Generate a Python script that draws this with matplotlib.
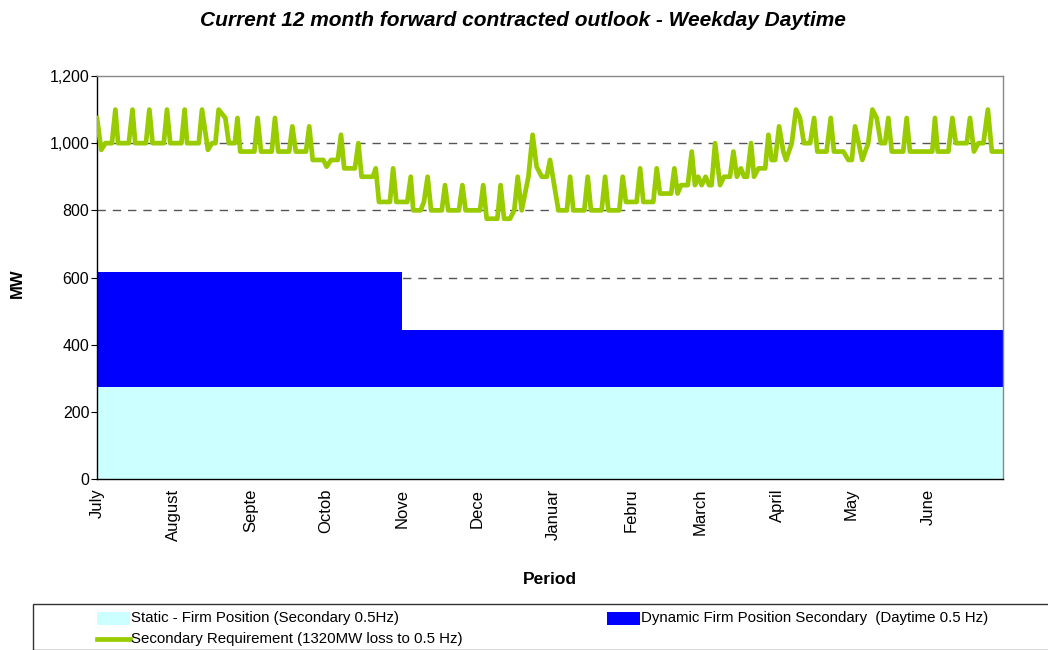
import matplotlib
matplotlib.use("Agg")
import matplotlib.pyplot as plt
from matplotlib.patches import Rectangle
from matplotlib.lines import Line2D
from matplotlib.ticker import FuncFormatter

plt.rcParams['font.family'] = ['Liberation Sans', 'DejaVu Sans']

# ---- data ----
month_labels = ['July', 'August', 'Septe', 'Octob', 'Nove', 'Dece',
                'Januar', 'Febru', 'March', 'April', 'May', 'June']
month_start_days = [0, 31, 62, 92, 123, 153, 184, 215, 243, 274, 304, 335]

static_days = [0, 365]
static_mw = [275, 275]

dynamic_days = [0, 123, 365]
dynamic_top_mw = [615, 443, 443]

req_days = [0, 1.7, 3.4, 6.0, 7.4, 8.5, 12.8, 14.3, 15.4, 19.7, 21.1, 22.4,
            26.9, 28.2, 29.5, 34.0, 35.3, 36.3, 41.0, 42.3, 44.7, 46.3, 47.7,
            49.0, 51.7, 53.1, 55.5, 56.6, 57.7, 63.4, 64.7, 66.1, 70.4, 71.7,
            73.0, 77.4, 78.7, 80.1, 84.2, 85.5, 86.9, 91.2, 92.5, 94.3, 97.0,
            98.3, 99.6, 103.9, 105.3, 106.6, 111.1, 112.3, 113.6, 118.0, 119.3,
            120.6, 125.0, 126.4, 127.4, 130.4, 131.7, 133.2, 134.6, 138.9,
            140.2, 141.5, 145.8, 147.2, 148.5, 154.3, 155.6, 157.0, 161.3,
            162.6, 164.0, 166.4, 168.1, 169.5, 171.1, 173.8, 175.5, 177.1,
            179.2, 181.2, 182.5, 185.9, 189.3, 190.6, 191.9, 196.3, 197.7,
            199.0, 203.3, 204.7, 206.0, 210.4, 211.8, 213.1, 217.4, 218.8,
            220.1, 224.1, 225.5, 226.8, 231.3, 232.6, 233.9, 235.3, 238.0,
            239.6, 240.9, 242.2, 243.6, 245.2, 246.6, 247.6, 249.0, 251.0,
            252.6, 255.0, 256.4, 257.8, 259.4, 260.7, 261.9, 263.5, 264.7,
            266.5, 269.2, 270.5, 271.8, 273.2, 274.8, 276.5, 277.6, 279.9,
            281.6, 283.2, 284.8, 287.3, 288.9, 290.2, 293.9, 295.6, 296.9,
            300.7, 302.7, 304.1, 305.4, 308.3, 310.7, 312.4, 314.1, 315.8,
            317.5, 318.8, 320.2, 324.8, 326.2, 327.5, 336.5, 337.6, 338.7,
            343.0, 344.6, 346.0, 350.4, 351.7, 353.3, 355.1, 357.1, 358.9,
            360.5, 365]
req_mw = [1075, 980, 1000, 1000, 1100, 1000, 1000, 1100, 1000, 1000, 1100, 1000,
          1000, 1100, 1000, 1000, 1100, 1000, 1000, 1100, 980, 1000, 1000,
          1100, 1075, 1000, 1000, 1075, 975, 975, 1075, 975, 975, 1075,
          975, 975, 1050, 975, 975, 1050, 950, 950, 930, 950, 950,
          1025, 925, 925, 1000, 900, 900, 925, 825, 825, 925,
          825, 825, 900, 800, 800, 825, 900, 800, 800,
          875, 800, 800, 875, 800, 800, 875, 775, 775,
          875, 775, 775, 800, 900, 800, 900, 1025, 930,
          900, 900, 950, 800, 800, 900, 800, 800, 900,
          800, 800, 900, 800, 800, 900, 825, 825, 925,
          825, 825, 925, 850, 850, 925, 850, 875, 875,
          975, 875, 900, 875, 900, 875, 875, 1000, 875,
          900, 900, 975, 900, 925, 900, 900, 1000, 900,
          925, 925, 1025, 950, 950, 1050, 975, 950, 1000,
          1100, 1075, 1000, 1000, 1075, 975, 975, 1075, 975,
          975, 950, 950, 1050, 950, 1000, 1100, 1075, 1000,
          1000, 1075, 975, 975, 1075, 975, 975, 1075, 975,
          975, 1075, 1000, 1000, 1075, 975, 1000, 1000, 1100,
          975, 975]

W, H = 1048, 650
fig = plt.figure(figsize=(W / 100, H / 100), dpi=100)
ax = fig.add_axes([97 / W, 1 - 479 / H, (1003 - 97) / W, (479 - 76) / H])

ax.set_xlim(0, 365)
ax.set_ylim(0, 1200)

# grid
for yv in [200, 400, 600, 800, 1000]:
    ax.axhline(yv, color='#555555', lw=1.0, ls=(0, (6, 5)), zorder=0)

ax.fill_between(static_days, 0, static_mw, color='#CCFFFF', lw=0, zorder=1)
ax.fill_between(dynamic_days, [275, 275, 275], dynamic_top_mw, step='post',
                color='#0000FF', lw=0, zorder=1)
ax.plot(req_days, req_mw, color='#99CC00', lw=3.4, zorder=3,
        solid_joinstyle='round')

ax.set_yticks(range(0, 1201, 200))
ax.yaxis.set_major_formatter(FuncFormatter(lambda v, p: f"{int(v):,}"))
ax.tick_params(axis='y', labelsize=11.5, length=4, direction='out', pad=1.5)
ax.set_xticks(month_start_days)
ax.set_xticklabels(month_labels, rotation=90, fontsize=12, va='top', ha='center')
ax.tick_params(axis='x', length=0, pad=7)

for side in ['left', 'bottom']:
    ax.spines[side].set_color('black')
    ax.spines[side].set_linewidth(1.0)
for side in ['top', 'right']:
    ax.spines[side].set_color('#888888')
    ax.spines[side].set_linewidth(1.0)

fig.text(17 / W, 1 - 283 / H, 'MW', fontsize=12, fontweight='bold',
         rotation=90, ha='center', va='center')
fig.text(550 / W, 1 - 580 / H, 'Period', fontsize=12.5, fontweight='bold',
         ha='center', va='center')

fig.text(523 / W, 1 - 20 / H,
         'Current 12 month forward contracted outlook - Weekday Daytime',
         fontsize=15, fontweight='bold', fontstyle='italic',
         ha='center', va='center')

# legend box
fig.patches.append(Rectangle((33 / W, 0), (1060 - 33) / W, (650 - 604) / H,
                             transform=fig.transFigure, facecolor='white',
                             edgecolor='#333333', lw=1.0))
fig.patches.append(Rectangle((97 / W, 1 - 625 / H), 33 / W, 13 / H,
                             transform=fig.transFigure, facecolor='#CCFFFF',
                             edgecolor='none'))
fig.patches.append(Rectangle((607 / W, 1 - 625 / H), 33 / W, 13 / H,
                             transform=fig.transFigure, facecolor='#0000FF',
                             edgecolor='none'))
fig.lines.append(Line2D([97 / W, 130 / W], [1 - 639 / H, 1 - 639 / H],
                        transform=fig.transFigure, color='#99CC00', lw=3.4))
fig.text(131 / W, 1 - 618 / H, 'Static - Firm Position (Secondary 0.5Hz)',
         fontsize=10.8, ha='left', va='center')
fig.text(641 / W, 1 - 618 / H, 'Dynamic Firm Position Secondary  (Daytime 0.5 Hz)',
         fontsize=10.8, ha='left', va='center')
fig.text(131 / W, 1 - 639 / H, 'Secondary Requirement (1320MW loss to 0.5 Hz)',
         fontsize=10.8, ha='left', va='center')

fig.savefig('out.png', dpi=100)
